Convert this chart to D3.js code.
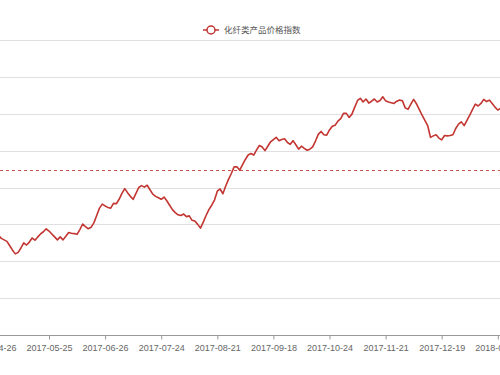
<!DOCTYPE html>
<html>
<head>
<meta charset="utf-8">
<script src="https://cdn.jsdelivr.net/npm/d3@7"></script>
<style>
  body { margin: 0; background: #fff; }
  svg { display: block; font-family: "Noto Sans CJK SC", "Noto Sans", sans-serif; }
</style>
</head>
<body>
<svg id="chart" width="500" height="375"></svg>
<script>
// series name shown in legend
const seriesName = "化纤类产品价格指数";

// one value per trading day (category index 0 = 2017-04-26)
const values = [
  94.0, 93.8, 93.5, 93.1, 92.9, 92.7, 92.1, 91.5, 91.0, 91.2,
  91.8, 92.5, 92.2, 92.6, 93.15, 92.85, 93.3, 93.7, 94.0, 94.4,
  94.1, 93.7, 93.3, 92.9, 93.3, 92.9, 93.4, 93.9, 93.8, 93.75,
  93.65, 94.3, 95.05, 94.7, 94.4, 94.6, 95.2, 96.2, 97.2, 97.75,
  97.5, 97.3, 97.2, 97.85, 97.8, 98.4, 99.2, 99.85, 99.3, 98.8,
  98.4, 99.2, 100.0, 100.25, 100.05, 100.3, 99.7, 99.1, 98.8, 98.6,
  98.4, 98.7, 98.2, 97.6, 97.0, 96.6, 96.3, 96.2, 96.4, 96.05,
  96.15, 95.55, 95.45, 95.0, 94.5, 95.3, 96.2, 97.0, 97.6, 98.3,
  99.5, 99.8, 99.15, 100.2, 101.1, 101.9, 102.8, 102.8, 102.35, 103.1,
  103.8, 104.4, 104.6, 104.4, 105.1, 105.7, 105.5, 105.0, 105.6, 106.2,
  106.5, 106.8, 106.35, 106.5, 106.6, 106.1, 105.85, 106.35, 105.8, 105.2,
  105.6, 105.3, 105.05, 105.2, 105.5, 106.3, 107.2, 107.6, 107.15, 107.1,
  107.8, 108.3, 108.45, 109.0, 109.35, 110.05, 110.05, 109.5, 109.95, 110.9,
  111.8, 112.1, 111.6, 112.0, 111.45, 111.7, 112.0, 111.6, 111.8, 112.3,
  111.75, 111.6, 111.5, 111.4, 111.7, 111.85, 111.75, 110.8, 110.6, 111.3,
  111.95, 111.35, 110.6, 109.8, 109.1, 108.4, 106.8, 107.0, 107.15, 106.7,
  106.45, 107.05, 107.0, 107.05, 107.15, 108.0, 108.6, 108.9, 108.4, 109.1,
  109.8, 110.6, 111.3, 111.05, 111.4, 111.95, 111.65, 111.85, 111.4, 110.9,
  110.5, 110.75, 110.9
];

// x axis labels, every 20th trading day
const tickIndex = [0, 20, 40, 60, 80, 100, 120, 140, 160, 180];
const tickLabels = ["2017-04-26", "2017-05-25", "2017-06-26", "2017-07-24", "2017-08-21",
                    "2017-09-18", "2017-10-24", "2017-11-21", "2017-12-19", "2018-01-17"];

// y grid values and the dashed reference (average) line
const yTicks = [80, 85, 90, 95, 100, 105, 110, 115, 120];
const avgValue = 102.4;

const color = "#c23531";
const svg = d3.select("#chart");

const x = d3.scaleLinear().domain([0, 180]).range([-7.1, 497.8]);
const y = d3.scaleLinear().domain([80, 120]).range([335, 40]);

// grid lines
svg.append("g")
  .selectAll("line")
  .data(yTicks.slice(1))
  .enter()
  .append("line")
  .attr("x1", 0).attr("x2", 500)
  .attr("y1", d => Math.round(y(d)) + 0.5)
  .attr("y2", d => Math.round(y(d)) + 0.5)
  .style("stroke", "#e0e0e0")
  .style("stroke-width", 1);

// x axis
const xAxis = d3.axisBottom(x)
  .tickValues(tickIndex)
  .tickFormat((d, i) => tickLabels[i])
  .tickSize(4)
  .tickSizeOuter(0);

const gx = svg.append("g")
  .attr("transform", "translate(0," + (Math.round(y(80)) + 0.5) + ")")
  .call(xAxis);
gx.select(".domain").attr("d", "M0,0H500").style("stroke", "#999");
gx.selectAll(".tick line").style("stroke", "#999");
gx.selectAll(".tick text")
  .style("fill", "#666")
  .style("font-size", "9px")
  .attr("dy", "0.9em");

// dashed average line
svg.append("line")
  .attr("x1", 0).attr("x2", 500)
  .attr("y1", Math.round(y(avgValue)) + 0.5)
  .attr("y2", Math.round(y(avgValue)) + 0.5)
  .style("stroke", color)
  .style("stroke-width", 1)
  .style("stroke-dasharray", "3,3")
  .style("opacity", 0.85);

// series line
const line = d3.line()
  .x((d, i) => x(i))
  .y(d => y(d));

svg.append("path")
  .datum(values)
  .attr("d", line)
  .style("fill", "none")
  .style("stroke", color)
  .style("stroke-width", 1.6)
  .style("stroke-linejoin", "round");

// legend
const legend = svg.append("g").attr("transform", "translate(203,30)");
legend.append("line")
  .attr("x1", 0).attr("x2", 16)
  .style("stroke", color)
  .style("stroke-width", 1.5);
legend.append("circle")
  .attr("cx", 8).attr("r", 4)
  .style("fill", "#fff")
  .style("stroke", color)
  .style("stroke-width", 1.5);
legend.append("text")
  .attr("x", 21)
  .attr("dy", "0.35em")
  .style("font-size", "8.5px")
  .style("fill", "#555")
  .text(seriesName);
</script>
</body>
</html>
